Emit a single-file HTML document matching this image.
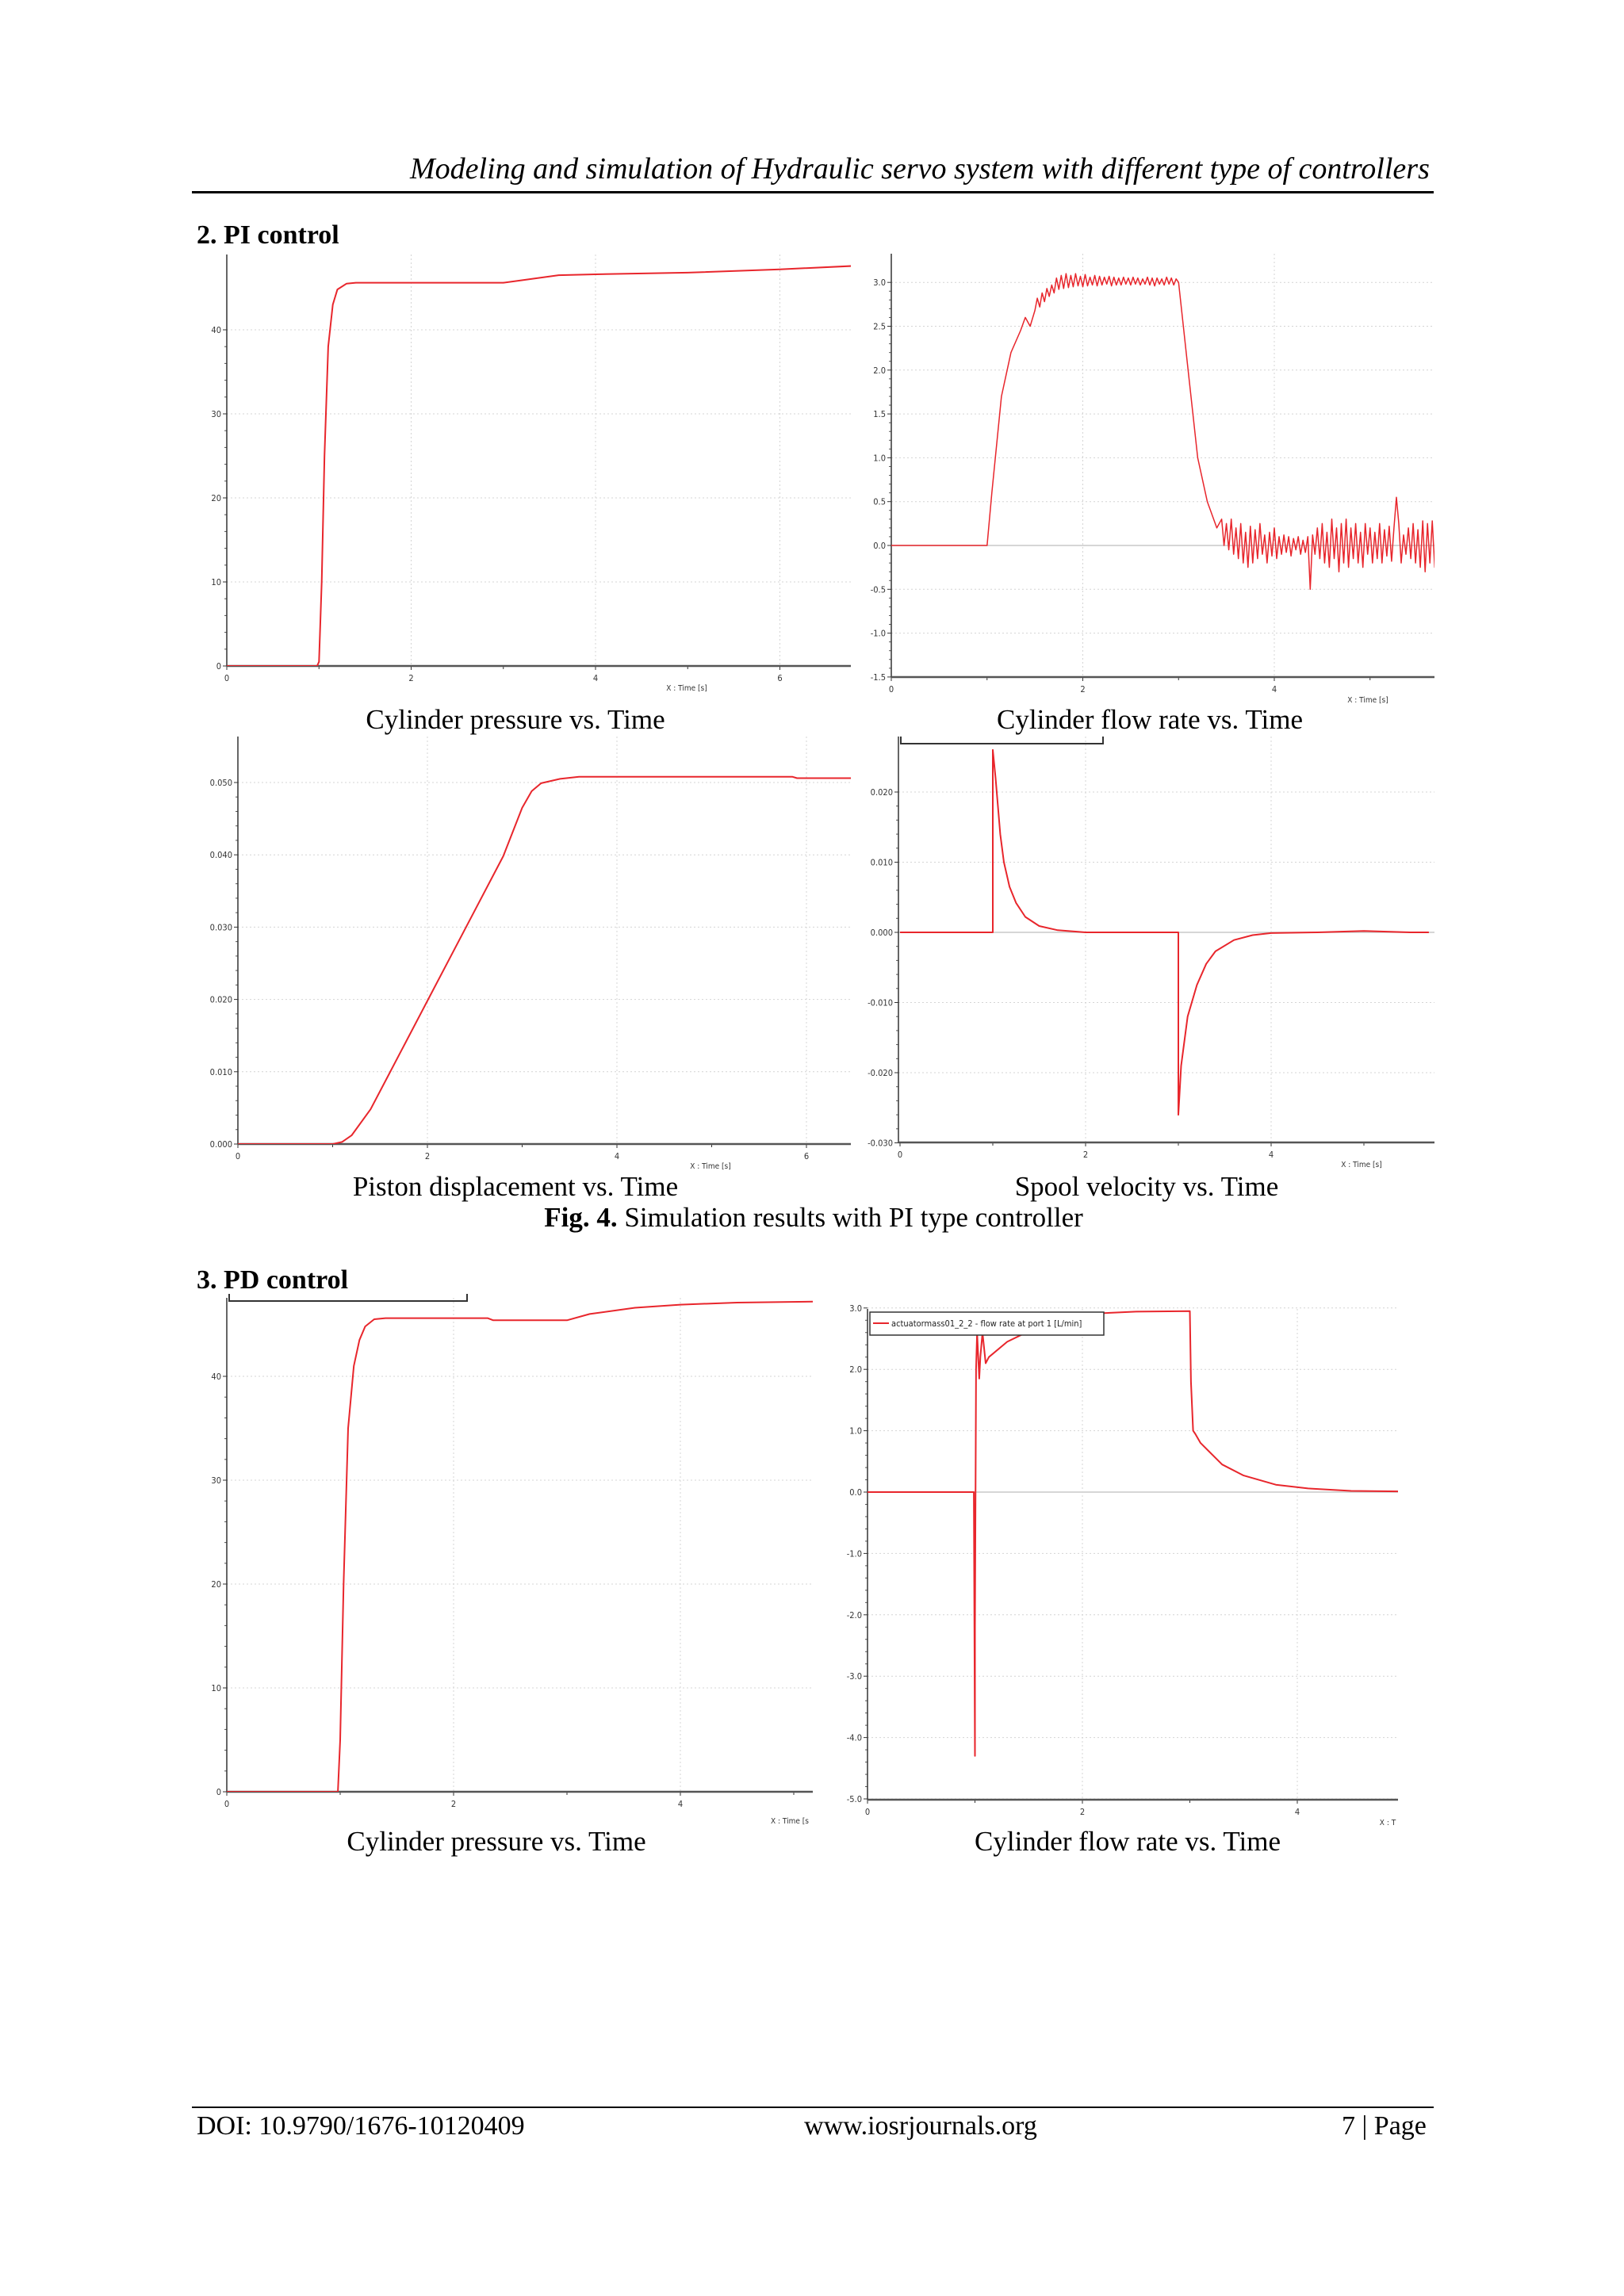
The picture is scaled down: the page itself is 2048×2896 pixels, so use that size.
<!DOCTYPE html>
<html><head><meta charset="utf-8"><style>
html,body{margin:0;padding:0;background:#fff;}
body{width:2048px;height:2896px;position:relative;overflow:hidden;font-family:"Liberation Serif",serif;color:#000;}
.t{position:absolute;white-space:nowrap;}
.cap{font-size:35px;transform:translateX(-50%);}
svg{position:absolute;left:0;top:0;}
</style></head><body>
<div class="t" style="left:517px;top:191px;font-size:38px;font-style:italic;">Modeling and simulation of Hydraulic servo system with different type of controllers</div>
<div class="t" style="left:242px;top:241px;width:1566px;height:3px;background:#000;"></div>
<div class="t" style="left:248px;top:278px;font-size:34px;font-weight:bold;">2. PI control</div>
<div class="t cap" style="left:650px;top:888px;">Cylinder pressure vs. Time</div>
<div class="t cap" style="left:1450px;top:888px;">Cylinder flow rate vs. Time</div>
<div class="t cap" style="left:650px;top:1477px;">Piston displacement vs. Time</div>
<div class="t cap" style="left:1446px;top:1477px;">Spool velocity vs. Time</div>
<div class="t cap" style="left:1026px;top:1516px;"><b>Fig. 4.</b> Simulation results with PI type controller</div>
<div class="t" style="left:248px;top:1596px;font-size:34px;font-weight:bold;">3. PD control</div>
<div class="t cap" style="left:626px;top:2303px;">Cylinder pressure vs. Time</div>
<div class="t cap" style="left:1422px;top:2303px;">Cylinder flow rate vs. Time</div>
<div class="t" style="left:242px;top:2657px;width:1566px;height:2px;background:#000;"></div>
<div class="t" style="left:248px;top:2663px;font-size:34px;">DOI: 10.9790/1676-10120409</div>
<div class="t" style="left:1161px;top:2663px;font-size:34px;transform:translateX(-50%);">www.iosrjournals.org</div>
<div class="t" style="left:1692px;top:2663px;font-size:34px;">7 | Page</div>
<svg id="svg" width="2048" height="2896"></svg>
<script>
// Chart 1: PI cylinder pressure
const c1T = [0,0.98,1.0,1.03,1.06,1.1,1.15,1.2,1.3,1.4,2.0,3.0,3.2,3.6,4.0,5.0,6.0,6.8];
const c1V = [0,0,0.5,10,25,38,43,44.8,45.5,45.6,45.6,45.6,45.9,46.5,46.6,46.8,47.2,47.6];
// Chart 2: PI flow rate (rise, noisy plateau sampled every 0.025 s, fall, noisy tail every 0.025 s)
const c2RiseT = [0,1.0,1.05,1.15,1.25,1.35,1.4,1.45];
const c2RiseV = [0,0,0.6,1.7,2.2,2.45,2.6,2.5];
const c2PlatStart = 1.5, c2PlatStep = 0.025;
const c2PlatV = [2.68,2.82,2.72,2.88,2.78,2.93,2.84,2.97,2.88,3.05,2.92,3.08,2.93,3.1,2.94,3.08,2.95,3.1,2.96,3.07,2.95,3.09,2.96,3.06,2.97,3.08,2.96,3.07,2.97,3.06,2.98,3.07,2.96,3.06,2.97,3.05,2.97,3.06,2.98,3.05,2.97,3.06,2.98,3.05,2.97,3.04,2.98,3.06,2.97,3.05,2.96,3.05,2.98,3.04,2.97,3.06,2.98,3.05,2.97,3.04];
const c2FallT = [3.0,3.1,3.2,3.3,3.4];
const c2FallV = [3.0,2.0,1.0,0.5,0.2];
const c2TailStart = 3.45, c2TailStep = 0.025;
const c2TailV = [0.3,0.0,0.25,-0.05,0.3,-0.1,0.2,-0.15,0.25,-0.2,0.15,-0.25,0.22,-0.2,0.18,-0.15,0.25,-0.1,0.12,-0.2,0.15,-0.12,0.2,-0.15,0.1,-0.1,0.12,-0.08,0.1,-0.12,0.08,-0.05,0.1,-0.1,0.06,-0.08,0.1,-0.5,0.12,-0.1,0.2,-0.15,0.25,-0.2,0.15,-0.25,0.3,-0.15,0.2,-0.3,0.25,-0.2,0.3,-0.25,0.2,-0.15,0.25,-0.2,0.15,-0.25,0.25,-0.1,0.2,-0.2,0.15,-0.15,0.25,-0.2,0.18,-0.12,0.22,-0.18,0.2,0.55,0.25,-0.2,0.12,-0.1,0.2,-0.15,0.25,-0.2,0.18,-0.25,0.28,-0.3,0.25,-0.2,0.28,-0.25,0.2];
// Chart 3: PI piston displacement
const c3T = [0,1.0,1.1,1.2,1.4,1.6,2.0,2.4,2.8,3.0,3.1,3.2,3.4,3.6,4.0,5.0,5.85,5.9,6.5];
const c3V = [0,0,0.0003,0.0012,0.0048,0.0098,0.0198,0.0298,0.0398,0.0465,0.0488,0.0499,0.0505,0.0508,0.0508,0.0508,0.0508,0.0506,0.0506];
// Chart 4: PI spool velocity
const c4T = [0,1.0,1.0,1.03,1.08,1.12,1.18,1.25,1.35,1.5,1.7,2.0,3.0,3.0,3.03,3.1,3.2,3.3,3.4,3.6,3.8,4.0,4.5,5.0,5.5,5.7];
const c4V = [0,0,0.026,0.022,0.014,0.010,0.0065,0.0042,0.0022,0.0009,0.0003,0,0,-0.026,-0.019,-0.012,-0.0075,-0.0045,-0.0027,-0.0011,-0.0004,-0.0001,0,0.0002,0,0];
// Chart 5: PD cylinder pressure
const c5T = [0,0.98,1.0,1.03,1.07,1.12,1.17,1.22,1.3,1.4,2.3,2.35,3.0,3.2,3.6,4.0,4.5,5.2];
const c5V = [0,0,5,20,35,41,43.5,44.8,45.5,45.6,45.6,45.4,45.4,46.0,46.6,46.9,47.1,47.2];
// Chart 6: PD flow rate
const c6T = [0,0.99,1.0,1.0,1.01,1.02,1.04,1.05,1.07,1.1,1.13,1.3,1.5,1.8,2.0,2.5,3.0,3.0,3.01,3.03,3.05,3.1,3.3,3.5,3.8,4.1,4.5,5.0];
const c6V = [0,0,-4.3,-2.2,2.0,2.6,1.85,2.2,2.6,2.1,2.2,2.45,2.62,2.82,2.9,2.94,2.95,2.95,1.8,1.0,0.95,0.8,0.45,0.27,0.12,0.06,0.02,0.01];

// tick arrays
const c1YTicks = [0,10,20,30,40];  const c1XTicks = [0,2,4,6];
const c2YTicks = [-1.5,-1.0,-0.5,0.0,0.5,1.0,1.5,2.0,2.5,3.0]; const c2XTicks = [0,2,4];
const c3YTicks = [0,0.01,0.02,0.03,0.04,0.05]; const c3XTicks = [0,2,4,6];
const c4YTicks = [-0.03,-0.02,-0.01,0,0.01,0.02]; const c4XTicks = [0,2,4];
const c5YTicks = [0,10,20,30,40]; const c5XTicks = [0,2,4];
const c6YTicks = [-5,-4,-3,-2,-1,0,1,2,3]; const c6XTicks = [0,2,4];

// assemble chart 2 series
const c2T = [], c2V = [];
c2RiseT.forEach((t,i)=>{c2T.push(t); c2V.push(c2RiseV[i]);});
c2PlatV.forEach((v,i)=>{c2T.push(c2PlatStart + i*c2PlatStep); c2V.push(v);});
c2FallT.forEach((t,i)=>{c2T.push(t); c2V.push(c2FallV[i]);});
c2TailV.forEach((v,i)=>{c2T.push(c2TailStart + i*c2TailStep); c2V.push(v);});

const NS = "http://www.w3.org/2000/svg";
const svg = document.getElementById('svg');
function mk(tag, attrs, parent){
  const e = document.createElementNS(NS, tag);
  for (const k in attrs) e.setAttribute(k, attrs[k]);
  (parent||svg).appendChild(e);
  return e;
}
function chart(o, T, V, yTicks, xTicks, yFmt){
  const g = mk('g', {});
  
  
  const xs = v => o.x0 + v*o.kx;
  const ys = v => o.y0 - v*o.ky;
  const clipId = o.name + '-clip';
  const cp = mk('clipPath', {id: clipId}, g);
  mk('rect', {x:o.l, y:o.t, width:o.r-o.l, height:o.b-o.t}, cp);
  yTicks.forEach(v => {
    const y = ys(v);
    const gl = mk('line', {x1:o.l, x2:o.r, y1:y, y2:y, stroke:(v===0&&o.zero)?'#c8c8c8':'#d4d4d4', 'stroke-width':(v===0&&o.zero)?1.5:1, 'stroke-dasharray':(v===0&&o.zero)?'':'2,3'}, g);
    
    
    mk('line', {x1:o.l-5, x2:o.l, y1:y, y2:y, stroke:'#333', 'stroke-width':1}, g);
    const tx = mk('text', {x:o.l-7, y:y+4, 'text-anchor':'end', 'font-size':11, fill:'#333', 'font-family':'DejaVu Sans Condensed, Liberation Sans, sans-serif'}, g);
    tx.textContent = yFmt(v);
    
    
  });
  for (let i=0;i<yTicks.length-1;i++){
    for (let j=1;j<5;j++){
      const v = yTicks[i] + (yTicks[i+1]-yTicks[i])*j/5;
      mk('line', {x1:o.l-3, x2:o.l, y1:ys(v), y2:ys(v), stroke:'#555', 'stroke-width':1}, g);
    }
  }
  xTicks.forEach(v => {
    const x = xs(v);
    if (v>0) {
      const gl = mk('line', {x1:x, x2:x, y1:o.t, y2:o.b, stroke:'#d4d4d4', 'stroke-dasharray':'2,3'}, g);
      
      
    }
    mk('line', {x1:x, x2:x, y1:o.b, y2:o.b+5, stroke:'#333'}, g);
    const tx = mk('text', {x:x, y:o.b+19, 'text-anchor':'middle', 'font-size':11, fill:'#333', 'font-family':'DejaVu Sans Condensed, Liberation Sans, sans-serif'}, g);
    tx.textContent = String(v);
    
    
  });
  for (let i=0;i<xTicks.length;i++){
    const m = xs(xTicks[i]+1);
    if (m < o.r) mk('line', {x1:m, x2:m, y1:o.b, y2:o.b+4, stroke:'#333'}, g);
  }
  const ya = mk('line', {x1:o.l, x2:o.l, y1:o.t, y2:o.b, stroke:'#333', 'stroke-width':1.5}, g);
  
  
  const xa = mk('line', {x1:o.l, x2:o.r, y1:o.b, y2:o.b, stroke:'#555', 'stroke-width':2.5}, g);
  
  
  const xl = mk('text', {x:o.xlx, y:o.xly, 'text-anchor':'middle', 'font-size':10, fill:'#333', 'font-family':'DejaVu Sans Condensed, Liberation Sans, sans-serif'}, g);
  xl.textContent = o.xlabel;
  
  
  const pts = T.map((t,i) => xs(t).toFixed(1)+','+ys(V[i]).toFixed(1)).join(' ');
  const pl = mk('polyline', {points:pts, fill:'none', stroke:'#e8262c', 'stroke-width':o.sw||2, 'stroke-linejoin':'round', 'clip-path':'url(#'+clipId+')'}, g);
  
  
  return g;
}
const f0 = v => String(v);
const f1 = v => v.toFixed(1);
const f3 = v => v.toFixed(3);
chart({name:'pi-pressure-chart', l:286, r:1073, t:321, b:840, x0:286, kx:116.25, y0:840, ky:10.6, xlx:866, xly:871, xlabel:'X : Time [s]'}, c1T, c1V, c1YTicks, c1XTicks, f0);
chart({name:'pi-flow-chart', l:1124, r:1809, t:320, b:854, x0:1124, kx:120.75, y0:688, ky:110.6, xlx:1725, xly:886, xlabel:'X : Time [s]', zero:true, sw:1.5}, c2T, c2V, c2YTicks, c2XTicks, f1);
chart({name:'pi-displacement-chart', l:300, r:1073, t:929, b:1443, x0:300, kx:119.5, y0:1443, ky:9120, xlx:896, xly:1474, xlabel:'X : Time [s]'}, c3T, c3V, c3YTicks, c3XTicks, f3);
chart({name:'pi-spool-chart', l:1133, r:1809, t:929, b:1441, x0:1135, kx:117, y0:1176, ky:8850, xlx:1717, xly:1472, xlabel:'X : Time [s]', zero:true}, c4T, c4V, c4YTicks, c4XTicks, f3);
chart({name:'pd-pressure-chart', l:286, r:1025, t:1637, b:2260, x0:286, kx:143, y0:2260, ky:13.1, xlx:996, xly:2300, xlabel:'X : Time [s'}, c5T, c5V, c5YTicks, c5XTicks, f0);
chart({name:'pd-flow-chart', l:1094, r:1763, t:1651, b:2270, x0:1094, kx:135.5, y0:1882, ky:77.4, xlx:1750, xly:2302, xlabel:'X : T', zero:true}, c6T, c6V, c6YTicks, c6XTicks, f1);

const lg1 = mk('path', {d:'M1136 929 L1136 938 L1391 938 L1391 929', fill:'none', stroke:'#333', 'stroke-width':2});


const lg2 = mk('path', {d:'M289 1632 L289 1641 L589 1641 L589 1632', fill:'none', stroke:'#333', 'stroke-width':2});


const lg3 = mk('rect', {x:1097, y:1655, width:295, height:29, fill:'#fff', stroke:'#333', 'stroke-width':1.5});


mk('line', {x1:1101, x2:1121, y1:1669, y2:1669, stroke:'#e8262c', 'stroke-width':2});
const lt = mk('text', {x:1124, y:1673, 'font-size':11, fill:'#222', 'font-family':'DejaVu Sans Condensed, Liberation Sans, sans-serif'});
lt.textContent = 'actuatormass01_2_2 - flow rate at port 1 [L/min]';


</script>
</body></html>
